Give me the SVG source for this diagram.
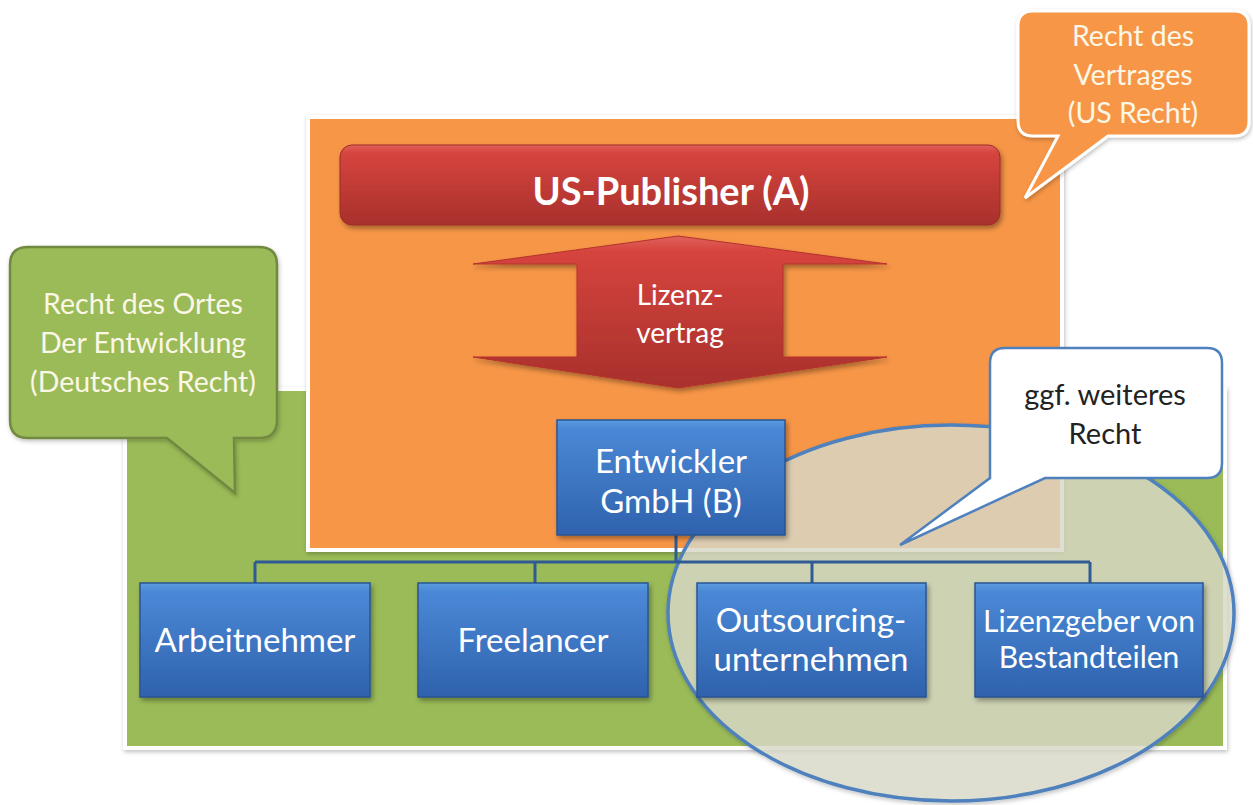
<svg xmlns="http://www.w3.org/2000/svg" width="1253" height="805" viewBox="0 0 1253 805">
  <defs>
    <linearGradient id="gBlue" x1="0" y1="0" x2="0" y2="1">
      <stop offset="0" stop-color="#5b9be0"/>
      <stop offset="0.08" stop-color="#4a88d6"/>
      <stop offset="1" stop-color="#2f62ad"/>
    </linearGradient>
    <linearGradient id="gRed" x1="0" y1="0" x2="0" y2="1">
      <stop offset="0" stop-color="#e0625c"/>
      <stop offset="0.1" stop-color="#d6443e"/>
      <stop offset="1" stop-color="#a8302c"/>
    </linearGradient>
    <filter id="shadow" x="-10%" y="-10%" width="130%" height="130%">
      <feDropShadow dx="2" dy="3" stdDeviation="2.5" flood-color="#000" flood-opacity="0.35"/>
    </filter>
    <filter id="softShadow" x="-5%" y="-5%" width="110%" height="110%">
      <feDropShadow dx="1" dy="2" stdDeviation="2" flood-color="#000" flood-opacity="0.25"/>
    </filter>
  </defs>
  <style>
    text { font-family: Lato, "Open Sans", "Liberation Sans", sans-serif; text-anchor: middle; }
    .box { fill: url(#gBlue); stroke: #2a5592; stroke-width: 1.5; filter: url(#shadow); }
    .boxText { fill: #ffffff; font-size: 33px; }
    .boxTextSm { fill: #ffffff; font-size: 30px; }
    .link { fill: none; stroke: #2f5a93; stroke-width: 3; }
    .calloutText { fill: #fbf7e6; font-size: 28.5px; }
  </style>

  <rect width="1253" height="805" fill="#ffffff"/>

  <!-- jurisdiction areas -->
  <g id="area-de">
    <rect x="125" y="389" width="1100" height="359" fill="#9bbb59" stroke="#ffffff" stroke-width="4" filter="url(#softShadow)"/>
  </g>
  <g id="area-us">
    <rect x="308" y="117" width="754" height="433" fill="#f79646" stroke="#ffffff" stroke-width="4" filter="url(#softShadow)"/>
  </g>

  <!-- optional further law zone -->
  <g id="zone-further">
    <ellipse cx="951" cy="613" rx="283" ry="188" fill="#dcdccc" fill-opacity="0.78" stroke="#4f81bd" stroke-width="3.5" filter="url(#softShadow)"/>
  </g>

  <g id="publisher">
    <rect x="340" y="145" width="660" height="80" rx="12" fill="url(#gRed)" stroke="#9e2b27" stroke-width="1" filter="url(#shadow)"/>
    <text x="671" y="205" fill="#ffffff" font-size="38" font-weight="bold">US-Publisher (A)</text>
  </g>

  <g id="license">
    <path d="M678,236 L887,264 L783,264 L783,357 L887,357 L678,388 L473,357 L577,357 L577,264 L473,264 Z" fill="url(#gRed)" stroke="#b5322d" stroke-width="1" filter="url(#shadow)"/>
    <text x="680" y="305" fill="#ffffff" font-size="28">Lizenz-</text>
    <text x="680" y="343" fill="#ffffff" font-size="28">vertrag</text>
  </g>

  <!-- connectors -->
  <g id="connectors">
    <path class="link" d="M676,535 V562 M255,562 H1090 M255,562 V583 M535,562 V583 M812,562 V583 M1090,562 V583"/>
  </g>

  <g id="developer">
    <rect class="box" x="557" y="420" width="228" height="115"/>
    <text class="boxText" x="671" y="473">Entwickler</text>
    <text class="boxText" x="671" y="513">GmbH (B)</text>
  </g>

  <g id="employee">
    <rect class="box" x="140" y="583" width="230" height="114"/>
    <text class="boxText" x="255" y="652">Arbeitnehmer</text>
  </g>
  <g id="freelancer">
    <rect class="box" x="418" y="583" width="230" height="114"/>
    <text class="boxText" x="533" y="652">Freelancer</text>
  </g>
  <g id="outsourcing">
    <rect class="box" x="697" y="583" width="229" height="114"/>
    <text class="boxText" x="811" y="632">Outsourcing-</text>
    <text class="boxText" x="811" y="671">unternehmen</text>
  </g>
  <g id="licensor">
    <rect class="box" x="975" y="583" width="228" height="114"/>
    <text class="boxTextSm" x="1089" y="632">Lizenzgeber von</text>
    <text class="boxTextSm" x="1089" y="668">Bestandteilen</text>
  </g>

  <!-- callouts -->
  <g id="callout-further">
    <path d="M1005,348 H1207 Q1222,348 1222,363 V463 Q1222,478 1207,478 H1045 L900,545 L990,478 V363 Q990,348 1005,348 Z" fill="#ffffff" stroke="#4f81bd" stroke-width="2.5"/>
    <text x="1105" y="405" fill="#222222" font-size="29">ggf. weiteres</text>
    <text x="1105" y="444" fill="#222222" font-size="29">Recht</text>
  </g>

  <g id="callout-us">
    <path d="M1033,11 H1234 Q1249,11 1249,26 V121 Q1249,136 1234,136 H1108 L1025,198 L1058,136 H1033 Q1018,136 1018,121 V26 Q1018,11 1033,11 Z" fill="#f79646" stroke="#ffffff" stroke-width="3" filter="url(#softShadow)"/>
    <text class="calloutText" x="1133" y="46">Recht des</text>
    <text class="calloutText" x="1133" y="85">Vertrages</text>
    <text class="calloutText" x="1133" y="123">(US Recht)</text>
  </g>

  <g id="callout-de">
    <path d="M28,247 H259 Q277,247 277,265 V420 Q277,438 259,438 H234 L235,493 L167,438 H28 Q10,438 10,420 V265 Q10,247 28,247 Z" fill="#9bbb59" stroke="#71893f" stroke-width="2.5" filter="url(#softShadow)"/>
    <text class="calloutText" x="143" y="314">Recht des Ortes</text>
    <text class="calloutText" x="143" y="353">Der Entwicklung</text>
    <text class="calloutText" x="143" y="392">(Deutsches Recht)</text>
  </g>
</svg>
